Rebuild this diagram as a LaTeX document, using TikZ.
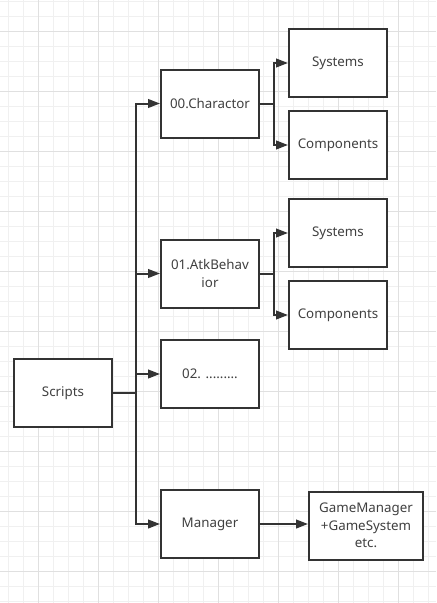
\documentclass[tikz,border=0pt]{standalone}
\usepackage{fontspec}
\setmainfont{Noto Sans}
\usetikzlibrary{arrows.meta}

\begin{document}
\begin{tikzpicture}[%
  x=0.75pt, y=-0.75pt, % pixel units, y pointing down
  box/.style={rectangle, draw=black!80, line width=1.5pt, fill=white, minimum width=73.5pt, minimum height=51pt, inner sep=2pt, align=center, text=black!75, font=\fontsize{10}{13}\selectfont}, % Default boxes
  link/.style={draw=black!80, line width=1.5pt, -{Triangle[length=9pt, width=6.5pt]}}, % Connectors with arrow heads
  minorgrid/.style={draw=black!6, line width=0.75pt},
  majorgrid/.style={draw=black!12, line width=0.75pt}
]
\useasboundingbox (0,0) rectangle (436,603);

% Background grid
\fill[white] (0,0) rectangle (436,603);
\foreach \gx in {8,23,...,436} \draw[minorgrid] (\gx,0) -- (\gx,603);
\foreach \gy in {1,16,...,603} \draw[minorgrid] (0,\gy) -- (436,\gy);
\foreach \gx in {38,98,...,436} \draw[majorgrid] (\gx,0) -- (\gx,603);
\foreach \gy in {31,91,...,603} \draw[majorgrid] (0,\gy) -- (436,\gy);

% Root node
\node[box] (scripts) at (63,393) {Scripts};

% Level 1
\node[box] (charactor) at (210,103.5) {00.Charactor};
\node[box] (atkbehavior) at (210,273.5) {01.AtkBehav\\ior};
\node[box] (other) at (210,374) {02. .........};
\node[box] (manager) at (210,524) {Manager};

% Level 2
\node[box] (systemsA) at (338,63) {Systems};
\node[box] (componentsA) at (338,145) {Components};
\node[box] (systemsB) at (338,233) {Systems};
\node[box] (componentsB) at (338,315) {Components};
\node[box, minimum width=85.5pt] (gamemanager) at (366,525.5) {GameManager\\+GameSystem\\etc.};

% Trunk from Scripts
\draw[link] (scripts.east) -- ++(23,0) |- (charactor.west);
\draw[link] (scripts.east) -- ++(23,0) |- (atkbehavior.west);
\draw[link] (scripts.east) -- ++(23,0) |- (other.west);
\draw[link] (scripts.east) -- ++(23,0) |- (manager.west);

% Splits to the second level
\draw[link] (charactor.east) -- ++(14,0) |- (systemsA.west);
\draw[link] (charactor.east) -- ++(14,0) |- (componentsA.west);
\draw[link] (atkbehavior.east) -- ++(14,0) |- (systemsB.west);
\draw[link] (atkbehavior.east) -- ++(14,0) |- (componentsB.west);
\draw[link] (manager.east) -- (manager.east -| gamemanager.west);

\end{tikzpicture}
\end{document}
